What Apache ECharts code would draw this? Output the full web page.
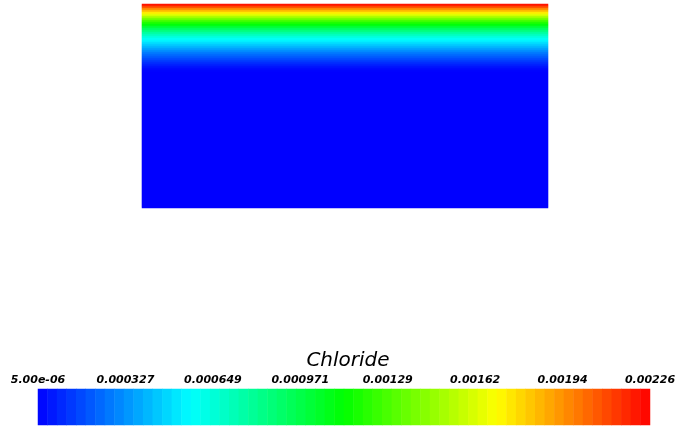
<!DOCTYPE html>
<html>
<head>
<meta charset="utf-8">
<script src="https://cdn.jsdelivr.net/npm/echarts@6/dist/echarts.min.js"></script>
<style>
html,body{margin:0;padding:0;background:#fff;}
#chart{width:680px;height:430px;}
</style>
</head>
<body>
<div id="chart"></div>
<script>
// Chloride concentration profile, one value per row from the top surface downward
const depthRows = [
  0.002215, 0.002102, 0.001967, 0.001854, 0.001741, 0.001629, 0.001516, 0.001403, 0.001290, 0.001200,
  0.001110, 0.001020, 0.000930, 0.000862, 0.000783, 0.000715, 0.000648, 0.000591, 0.000546, 0.000501,
  0.000456, 0.000411, 0.000366, 0.000321, 0.000276, 0.000242, 0.000208, 0.000174, 0.000140, 0.000106,
  0.000077, 0.000050, 0.000028, 0.000012, 0.000005, 0.000005, 0.000005, 0.000005, 0.000005, 0.000005,
  0.000005, 0.000005, 0.000005, 0.000005, 0.000005, 0.000005, 0.000005, 0.000005, 0.000005, 0.000005,
  0.000005, 0.000005, 0.000005, 0.000005, 0.000005, 0.000005, 0.000005, 0.000005, 0.000005, 0.000005,
  0.000005, 0.000005, 0.000005, 0.000005, 0.000005, 0.000005, 0.000005, 0.000005, 0.000005, 0.000005,
  0.000005, 0.000005, 0.000005, 0.000005, 0.000005, 0.000005, 0.000005, 0.000005, 0.000005, 0.000005,
  0.000005, 0.000005, 0.000005, 0.000005, 0.000005, 0.000005, 0.000005, 0.000005, 0.000005, 0.000005,
  0.000005, 0.000005, 0.000005, 0.000005, 0.000005, 0.000005, 0.000005, 0.000005, 0.000005, 0.000005,
  0.000005, 0.000005
];
const widthColumns = ['0'];
const scaleMin = 0.000005;
const scaleMax = 0.00226;
const tickLabels = ['5.00e-06', '0.000327', '0.000649', '0.000971', '0.00129', '0.00162', '0.00194', '0.00226'];
const rainbow = ['#0000ff', '#00ffff', '#00ff00', '#ffff00', '#ff0000'];
const bandCount = 64;
const legendTitle = 'Chloride';

const rowCats = depthRows.map((_, i) => String(i));
const fieldData = [];
depthRows.forEach((v, r) => widthColumns.forEach((c, ci) => fieldData.push([ci, r, v])));

// colour bar cells: one cell per discrete colour band of the lookup table
const bandCats = [];
const bandData = [];
for (let i = 0; i < bandCount; i++) {
  bandCats.push(String(i));
  bandData.push([i, 0, scaleMin + (i + 0.5) * (scaleMax - scaleMin) / bandCount]);
}

const chart = echarts.init(document.getElementById('chart'), null, {renderer: 'canvas'});
chart.setOption({
  animation: false,
  backgroundColor: '#ffffff',
  title: {
    text: legendTitle,
    left: 343,
    top: 346,
    textAlign: 'center',
    textStyle: {fontFamily: 'DejaVu Sans', fontStyle: 'italic', fontWeight: 'normal', fontSize: 20, color: '#000'}
  },
  grid: [
    {left: 142, top: 4, width: 406, height: 204},
    {left: 38, top: 389, width: 612, height: 36}
  ],
  xAxis: [
    {type: 'category', gridIndex: 0, data: widthColumns, show: false},
    {type: 'category', gridIndex: 1, data: bandCats, show: false},
    {
      type: 'value', gridIndex: 1, min: 0, max: 7, interval: 1, position: 'top',
      axisLine: {show: false}, axisTick: {show: false}, splitLine: {show: false},
      axisLabel: {
        margin: 3,
        fontFamily: 'DejaVu Sans', fontStyle: 'italic', fontWeight: 'bold', fontSize: 11, color: '#000',
        formatter: v => tickLabels[Math.round(v)] || ''
      }
    }
  ],
  yAxis: [
    {type: 'category', gridIndex: 0, data: rowCats, inverse: true, show: false},
    {type: 'category', gridIndex: 1, data: ['0'], show: false}
  ],
  visualMap: {
    show: false, type: 'continuous', min: scaleMin, max: scaleMax,
    seriesIndex: [0, 1], dimension: 2,
    inRange: {color: rainbow}
  },
  series: [
    {type: 'heatmap', xAxisIndex: 0, yAxisIndex: 0, data: fieldData, itemStyle: {borderWidth: 0}, emphasis: {disabled: true}},
    {type: 'heatmap', xAxisIndex: 1, yAxisIndex: 1, data: bandData, itemStyle: {borderWidth: 0}, emphasis: {disabled: true}}
  ]
});
</script>
</body>
</html>
